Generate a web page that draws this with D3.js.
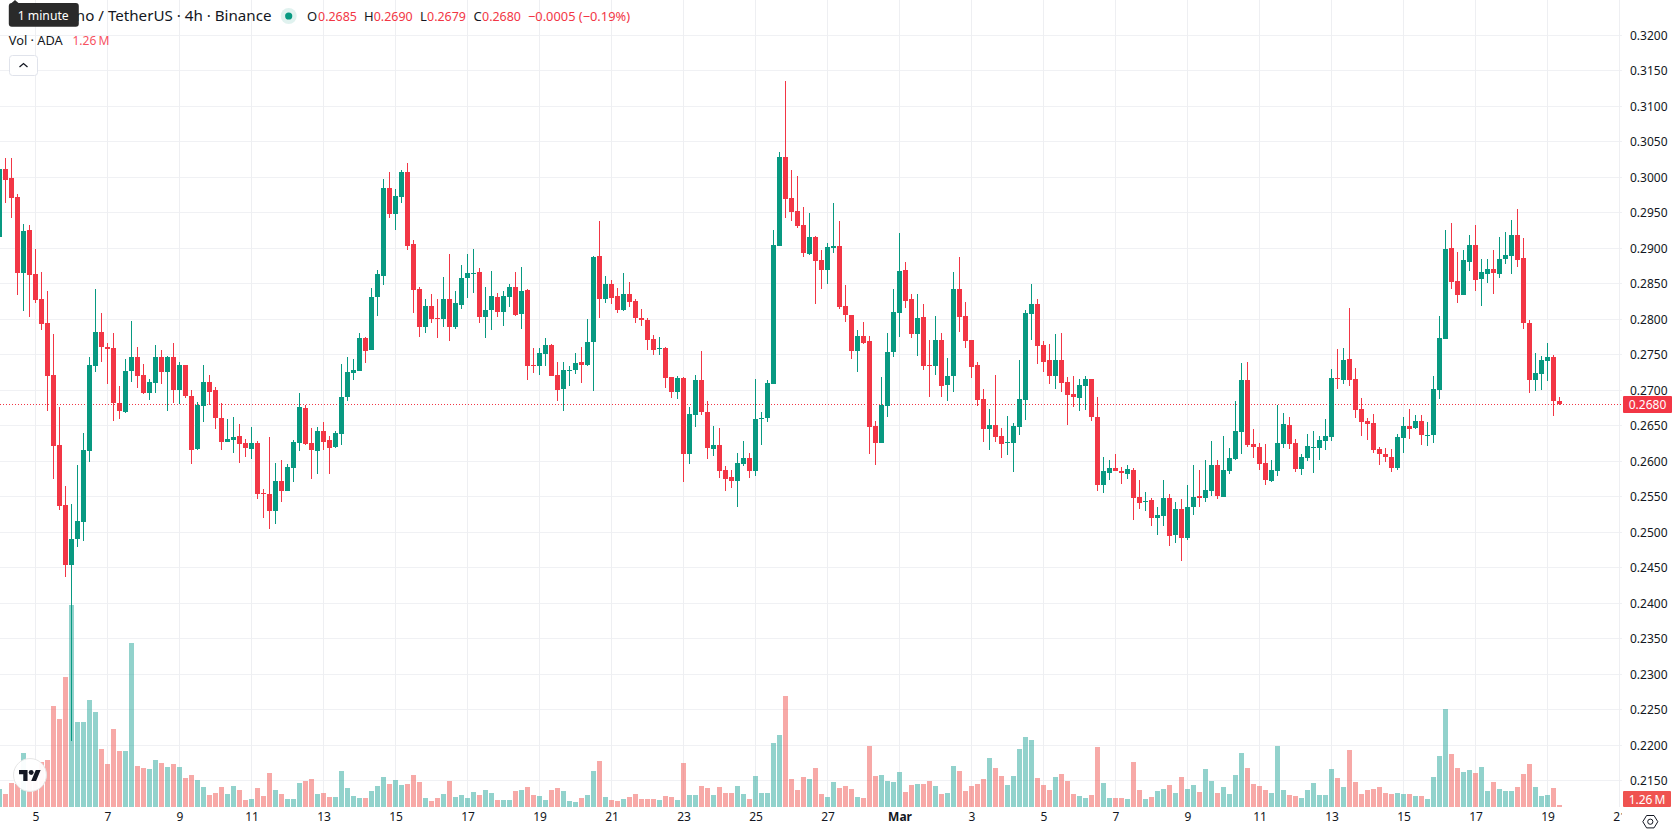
<!DOCTYPE html>
<html>
<head>
<meta charset="utf-8">
<title>ADA / USDT 4h</title>
<script src="https://cdn.jsdelivr.net/npm/d3@7"></script>
<style>
  html, body { margin: 0; padding: 0; background: #fff; }
  svg { display: block; }
  text { font-family: "Noto Sans", sans-serif; fill: #131722; }
</style>
</head>
<body>
<div id="chart"></div>
<script>
// 4h candles, oldest first; one row per ten candles
const opens = [
0.2916,0.3012,0.2999,0.2972,0.2865,0.2926,0.2864,0.2828,0.2795,0.2721,
0.2623,0.2538,0.2454,0.2490,0.2514,0.2614,0.2734,0.2782,0.2761,0.2759,
0.2682,0.2669,0.2727,0.2747,0.2721,0.2696,0.2710,0.2747,0.2726,0.2747,
0.2700,0.2735,0.2692,0.2617,0.2678,0.2712,0.2700,0.2661,0.2627,0.2630,
0.2635,0.2626,0.2617,0.2626,0.2555,0.2554,0.2530,0.2572,0.2558,0.2590,
0.2626,0.2675,0.2626,0.2614,0.2642,0.2630,0.2620,0.2638,0.2690,0.2724,
0.2727,0.2773,0.2757,0.2831,0.2861,0.2985,0.2948,0.2972,0.3007,0.2906,
0.2843,0.2789,0.2819,0.2802,0.2800,0.2828,0.2789,0.2820,0.2858,0.2864,
0.2866,0.2803,0.2813,0.2831,0.2810,0.2831,0.2845,0.2807,0.2841,0.2735,
0.2734,0.2751,0.2764,0.2721,0.2702,0.2727,0.2728,0.2740,0.2735,0.2768,
0.2889,0.2828,0.2850,0.2833,0.2813,0.2835,0.2826,0.2802,0.2799,0.2772,
0.2758,0.2759,0.2719,0.2697,0.2717,0.2610,0.2665,0.2714,0.2669,0.2617,
0.2623,0.2588,0.2578,0.2572,0.2596,0.2604,0.2586,0.2659,0.2661,0.2709,
0.2903,0.3028,0.2971,0.2952,0.2933,0.2892,0.2916,0.2883,0.2869,0.2900,
0.2903,0.2819,0.2806,0.2755,0.2776,0.2769,0.2650,0.2626,0.2678,0.2754,
0.2809,0.2869,0.2828,0.2779,0.2803,0.2735,0.2734,0.2771,0.2707,0.2720,
0.2842,0.2804,0.2771,0.2735,0.2688,0.2645,0.2651,0.2635,0.2626,0.2626,
0.2648,0.2686,0.2807,0.2821,0.2764,0.2742,0.2720,0.2742,0.2712,0.2695,
0.2689,0.2706,0.2716,0.2662,0.2566,0.2583,0.2590,0.2586,0.2582,0.2588,
0.2549,0.2542,0.2545,0.2520,0.2523,0.2548,0.2496,0.2533,0.2492,0.2535,
0.2551,0.2548,0.2558,0.2595,0.2550,0.2586,0.2603,0.2641,0.2714,0.2624,
0.2620,0.2597,0.2572,0.2586,0.2624,0.2651,0.2626,0.2589,0.2605,0.2619,
0.2619,0.2628,0.2634,0.2717,0.2714,0.2744,0.2716,0.2674,0.2657,0.2654,
0.2617,0.2610,0.2606,0.2590,0.2633,0.2650,0.2647,0.2657,0.2635,0.2637,
0.2700,0.2772,0.2900,0.2854,0.2834,0.2881,0.2905,0.2857,0.2864,0.2871,
0.2864,0.2885,0.2889,0.2919,0.2886,0.2795,0.2714,0.2723,0.2741,0.2747,
0.2685];

const highs = [
0.3015,0.3027,0.3027,0.2976,0.2934,0.2933,0.2899,0.2866,0.2840,0.2779,
0.2676,0.2565,0.2540,0.2595,0.2640,0.2747,0.2843,0.2809,0.2766,0.2781,
0.2706,0.2744,0.2797,0.2761,0.2737,0.2716,0.2764,0.2757,0.2748,0.2766,
0.2740,0.2736,0.2700,0.2683,0.2735,0.2721,0.2704,0.2682,0.2659,0.2662,
0.2652,0.2631,0.2648,0.2628,0.2561,0.2634,0.2597,0.2602,0.2596,0.2630,
0.2696,0.2679,0.2647,0.2648,0.2655,0.2635,0.2642,0.2737,0.2747,0.2744,
0.2781,0.2775,0.2844,0.2869,0.2997,0.3007,0.2983,0.3010,0.3020,0.2912,
0.2845,0.2828,0.2835,0.2828,0.2859,0.2892,0.2840,0.2876,0.2892,0.2899,
0.2872,0.2845,0.2868,0.2837,0.2840,0.2850,0.2866,0.2874,0.2842,0.2759,
0.2759,0.2773,0.2765,0.2740,0.2740,0.2734,0.2752,0.2761,0.2800,0.2889,
0.2938,0.2861,0.2855,0.2844,0.2865,0.2852,0.2828,0.2814,0.2802,0.2778,
0.2775,0.2761,0.2719,0.2720,0.2719,0.2676,0.2721,0.2755,0.2685,0.2650,
0.2647,0.2593,0.2588,0.2612,0.2628,0.2612,0.2716,0.2669,0.2714,0.2926,
0.3036,0.3136,0.3010,0.3002,0.2958,0.2950,0.2917,0.2897,0.2907,0.2964,
0.2938,0.2848,0.2806,0.2785,0.2796,0.2776,0.2657,0.2719,0.2781,0.2842,
0.2921,0.2881,0.2835,0.2835,0.2821,0.2771,0.2804,0.2781,0.2745,0.2866,
0.2888,0.2824,0.2771,0.2740,0.2702,0.2673,0.2721,0.2647,0.2664,0.2654,
0.2742,0.2813,0.2850,0.2828,0.2769,0.2765,0.2779,0.2781,0.2719,0.2720,
0.2716,0.2720,0.2716,0.2690,0.2606,0.2602,0.2610,0.2592,0.2595,0.2590,
0.2573,0.2556,0.2548,0.2535,0.2573,0.2554,0.2543,0.2547,0.2566,0.2595,
0.2588,0.2602,0.2628,0.2602,0.2635,0.2619,0.2685,0.2738,0.2740,0.2645,
0.2626,0.2624,0.2602,0.2679,0.2668,0.2662,0.2631,0.2610,0.2638,0.2643,
0.2635,0.2659,0.2730,0.2758,0.2759,0.2816,0.2731,0.2689,0.2661,0.2666,
0.2620,0.2619,0.2617,0.2638,0.2662,0.2674,0.2665,0.2665,0.2655,0.2720,
0.2805,0.2926,0.2936,0.2895,0.2897,0.2919,0.2933,0.2885,0.2885,0.2897,
0.2916,0.2923,0.2940,0.2955,0.2914,0.2799,0.2752,0.2748,0.2766,0.2750,
0.2690];

const lows = [
0.2912,0.2964,0.2943,0.2834,0.2812,0.2803,0.2823,0.2785,0.2671,0.2575,
0.2531,0.2437,0.2206,0.2479,0.2488,0.2599,0.2726,0.2740,0.2709,0.2657,
0.2659,0.2668,0.2712,0.2703,0.2695,0.2686,0.2696,0.2709,0.2671,0.2682,
0.2681,0.2689,0.2596,0.2616,0.2655,0.2679,0.2645,0.2616,0.2627,0.2612,
0.2597,0.2606,0.2603,0.2547,0.2520,0.2504,0.2512,0.2543,0.2558,0.2571,
0.2614,0.2623,0.2575,0.2582,0.2616,0.2582,0.2619,0.2623,0.2685,0.2714,
0.2727,0.2738,0.2757,0.2804,0.2848,0.2943,0.2926,0.2964,0.2897,0.2809,
0.2775,0.2781,0.2795,0.2773,0.2789,0.2769,0.2786,0.2814,0.2830,0.2837,
0.2795,0.2773,0.2785,0.2803,0.2790,0.2817,0.2804,0.2786,0.2714,0.2724,
0.2721,0.2734,0.2720,0.2685,0.2671,0.2706,0.2723,0.2710,0.2734,0.2699,
0.2802,0.2823,0.2821,0.2809,0.2812,0.2817,0.2795,0.2790,0.2757,0.2750,
0.2750,0.2703,0.2689,0.2688,0.2571,0.2596,0.2648,0.2665,0.2603,0.2607,
0.2576,0.2558,0.2562,0.2535,0.2593,0.2576,0.2579,0.2623,0.2655,0.2709,
0.2903,0.2942,0.2938,0.2928,0.2888,0.2890,0.2821,0.2842,0.2850,0.2893,
0.2814,0.2796,0.2744,0.2726,0.2765,0.2610,0.2595,0.2626,0.2662,0.2747,
0.2775,0.2816,0.2773,0.2748,0.2728,0.2690,0.2721,0.2690,0.2685,0.2697,
0.2782,0.2759,0.2717,0.2678,0.2627,0.2616,0.2627,0.2604,0.2609,0.2585,
0.2637,0.2658,0.2771,0.2737,0.2726,0.2709,0.2702,0.2697,0.2651,0.2676,
0.2671,0.2672,0.2657,0.2558,0.2555,0.2573,0.2586,0.2568,0.2575,0.2517,
0.2533,0.2530,0.2509,0.2496,0.2509,0.2481,0.2485,0.2459,0.2489,0.2524,
0.2535,0.2543,0.2551,0.2547,0.2550,0.2582,0.2602,0.2610,0.2620,0.2605,
0.2588,0.2566,0.2571,0.2579,0.2619,0.2617,0.2585,0.2581,0.2600,0.2583,
0.2602,0.2616,0.2628,0.2702,0.2709,0.2706,0.2661,0.2635,0.2630,0.2612,
0.2595,0.2599,0.2585,0.2588,0.2612,0.2631,0.2645,0.2623,0.2621,0.2626,
0.2688,0.2772,0.2843,0.2823,0.2834,0.2868,0.2840,0.2819,0.2851,0.2836,
0.2858,0.2878,0.2864,0.2874,0.2786,0.2696,0.2699,0.2700,0.2713,0.2664,
0.2679];

const closes = [
0.3012,0.2996,0.2971,0.2865,0.2924,0.2862,0.2827,0.2793,0.2720,0.2621,
0.2537,0.2454,0.2490,0.2516,0.2616,0.2735,0.2782,0.2761,0.2758,0.2682,
0.2671,0.2727,0.2747,0.2720,0.2696,0.2712,0.2747,0.2726,0.2747,0.2700,
0.2735,0.2692,0.2616,0.2679,0.2712,0.2698,0.2661,0.2627,0.2631,0.2634,
0.2624,0.2619,0.2626,0.2554,0.2554,0.2530,0.2572,0.2558,0.2592,0.2627,
0.2676,0.2624,0.2616,0.2642,0.2627,0.2619,0.2640,0.2690,0.2726,0.2728,
0.2773,0.2755,0.2831,0.2864,0.2985,0.2948,0.2974,0.3007,0.2903,0.2841,
0.2789,0.2819,0.2800,0.2800,0.2828,0.2789,0.2823,0.2858,0.2865,0.2865,
0.2803,0.2813,0.2833,0.2810,0.2833,0.2845,0.2806,0.2840,0.2734,0.2734,
0.2752,0.2764,0.2720,0.2700,0.2728,0.2728,0.2738,0.2735,0.2768,0.2888,
0.2828,0.2850,0.2830,0.2813,0.2835,0.2824,0.2802,0.2799,0.2771,0.2757,
0.2759,0.2717,0.2697,0.2717,0.2610,0.2666,0.2714,0.2669,0.2619,0.2623,
0.2586,0.2575,0.2572,0.2597,0.2604,0.2586,0.2659,0.2661,0.2710,0.2904,
0.3028,0.2969,0.2951,0.2931,0.2893,0.2916,0.2882,0.2869,0.2902,0.2903,
0.2817,0.2806,0.2755,0.2776,0.2766,0.2648,0.2626,0.2679,0.2754,0.2810,
0.2868,0.2826,0.2779,0.2802,0.2734,0.2734,0.2771,0.2706,0.2720,0.2842,
0.2803,0.2769,0.2733,0.2686,0.2645,0.2651,0.2634,0.2624,0.2627,0.2650,
0.2688,0.2809,0.2821,0.2762,0.2740,0.2720,0.2742,0.2710,0.2693,0.2690,
0.2707,0.2716,0.2662,0.2566,0.2586,0.2590,0.2586,0.2583,0.2589,0.2548,
0.2541,0.2544,0.2520,0.2524,0.2548,0.2495,0.2533,0.2492,0.2535,0.2550,
0.2548,0.2559,0.2595,0.2551,0.2588,0.2604,0.2643,0.2714,0.2623,0.2620,
0.2596,0.2573,0.2588,0.2626,0.2652,0.2624,0.2589,0.2606,0.2621,0.2620,
0.2630,0.2635,0.2717,0.2716,0.2743,0.2714,0.2672,0.2655,0.2652,0.2616,
0.2610,0.2606,0.2590,0.2634,0.2650,0.2645,0.2657,0.2637,0.2637,0.2702,
0.2774,0.2899,0.2852,0.2834,0.2883,0.2905,0.2855,0.2866,0.2871,0.2865,
0.2885,0.2890,0.2919,0.2883,0.2795,0.2714,0.2724,0.2743,0.2747,0.2685,
0.2680];

// Traded volume per candle, in millions of ADA
const volumes = [
11.1,8.0,14.9,14.7,33.8,17.9,22.1,28.1,29.4,63.4,
55.2,81.7,127.1,53.3,53.3,67.2,59.6,36.3,26.9,48.9,
35.1,35.1,103.1,25.6,24.4,23.7,29.4,27.5,25.0,26.9,
25.0,18.1,20.0,16.8,12.4,7.4,8.6,12.4,8.0,13.0,
10.5,4.2,4.8,11.8,6.7,21.2,10.5,8.0,4.8,4.8,
14.9,16.2,17.4,8.0,8.6,6.1,6.1,22.5,11.8,6.7,
5.5,5.5,9.9,13.0,18.7,14.3,16.8,13.7,14.3,20.0,
15.8,5.7,3.8,5.7,8.2,16.4,6.3,7.6,5.7,9.5,
7.6,10.7,8.8,4.4,4.4,4.4,10.1,10.7,12.6,7.6,
6.9,4.4,10.7,12.0,10.1,3.8,3.2,5.7,7.6,22.7,
29.0,6.3,4.4,3.8,5.0,6.3,8.2,5.0,5.0,5.0,
4.4,6.9,6.3,4.4,27.7,7.6,7.6,13.2,12.0,7.6,
12.6,8.8,8.8,13.2,8.2,5.0,19.5,8.8,8.8,40.3,
45.4,69.9,17.6,10.7,18.9,17.6,24.6,8.2,6.3,15.8,
12.0,13.2,11.3,6.3,5.7,38.4,19.5,20.2,16.4,15.8,
22.1,9.5,13.9,14.5,14.5,16.4,13.2,8.2,8.8,25.8,
22.7,10.1,13.2,14.5,17.6,30.9,24.6,19.5,13.9,19.5,
36.5,44.1,42.2,18.3,13.9,10.7,18.9,20.8,16.4,8.2,
6.9,5.7,7.6,37.8,15.1,5.7,5.7,5.7,5.0,28.4,
10.7,5.0,6.3,10.1,11.3,13.9,8.8,18.9,11.3,13.9,
9.5,23.9,16.4,8.8,12.6,8.2,20.2,34.0,24.6,14.5,
13.2,10.7,8.8,38.4,10.7,7.6,6.9,5.7,10.7,15.1,
7.6,7.6,23.9,18.3,12.6,35.9,15.8,8.2,10.7,11.3,
12.6,8.8,8.2,8.8,8.2,8.2,6.9,6.9,5.0,18.9,
32.1,61.7,33.4,24.6,22.1,23.3,21.4,25.2,10.1,15.8,
11.3,10.1,10.1,12.6,20.8,27.1,12.6,6.9,7.6,12.0,
1.26];

const priceTicks = [0.32,0.315,0.31,0.305,0.30,0.295,0.29,0.285,0.28,0.275,0.27,0.265,
  0.26,0.255,0.25,0.245,0.24,0.235,0.23,0.225,0.22,0.215];

// Every second day falls on a candle: candle index -> day label
const dayTickIndex = [6,18,30,42,54,66,78,90,102,114,126,138,150,162,174,186,198,210,222,234,246,258,270];
const dayTickLabels = ["5","7","9","11","13","15","17","19","21","23","25","27","Mar","3","5","7","9","11","13","15","17","19","21"];

const lastPrice = 0.2680;
const legendOHLC = [["O","0.2685"],["H","0.2690"],["L","0.2679"],["C","0.2680"]];
const legendChange = "\u22120.0005 (\u22120.19%)";
const legendVolume = "1.26\u2009M";

const width = 1678, height = 835;
const paneRight = 1622, paneBottom = 807;
const up = "#089981", down = "#f23645";
const upVol = "#26a69a", downVol = "#ef5350";

const svg = d3.select("#chart").append("svg").attr("width", width).attr("height", height);

const x = d3.scaleLinear().domain([0, 260]).range([-0.5, 1559.5]);
const y = d3.scaleLinear().domain([0.215, 0.32]).range([780.7, 35.2]);
const v = d3.scaleLinear().domain([0, 127.1]).range([paneBottom, 605]);

const candles = opens.map((o, i) => ({
  i, o, h: highs[i], l: lows[i], c: closes[i], vol: volumes[i], rising: closes[i] >= o
}));

const pixel = p => Math.round(y(p));

// Grid
const grid = svg.append("g").attr("shape-rendering", "crispEdges");
grid.selectAll(".hl").data(priceTicks).join("line").attr("class", "hl")
  .attr("x1", 0).attr("x2", paneRight)
  .attr("y1", d => Math.floor(y(d)) + 0.5).attr("y2", d => Math.floor(y(d)) + 0.5)
  .attr("stroke", "#f0f1f4");
grid.selectAll(".vl").data(dayTickIndex).join("line").attr("class", "vl")
  .attr("x1", d => x(d)).attr("x2", d => x(d))
  .attr("y1", 0).attr("y2", paneBottom)
  .attr("stroke", "#eeeff2");

// Volume bars sit under the candles
svg.append("g").attr("shape-rendering", "crispEdges")
  .selectAll("rect").data(candles).join("rect")
  .attr("x", d => x(d.i) - 2.5).attr("width", 5)
  .attr("y", d => Math.round(v(d.vol)))
  .attr("height", d => paneBottom - Math.round(v(d.vol)))
  .attr("fill", d => d.rising ? upVol : downVol)
  .attr("fill-opacity", 0.5);

// Last-price line
svg.append("line")
  .attr("x1", 0).attr("x2", paneRight)
  .attr("y1", Math.floor(y(lastPrice)) + 0.5).attr("y2", Math.floor(y(lastPrice)) + 0.5)
  .attr("stroke", down).attr("stroke-dasharray", "1 2").attr("shape-rendering", "crispEdges");

// Candles
const candleG = svg.append("g").attr("shape-rendering", "crispEdges")
  .selectAll("g").data(candles).join("g")
  .attr("fill", d => d.rising ? up : down);
candleG.append("rect")
  .attr("x", d => x(d.i) - 0.5).attr("width", 1)
  .attr("y", d => pixel(d.h))
  .attr("height", d => Math.max(1, pixel(d.l) - pixel(d.h)));
candleG.append("rect")
  .attr("x", d => x(d.i) - 2.5).attr("width", 5)
  .attr("y", d => pixel(Math.max(d.o, d.c)))
  .attr("height", d => Math.max(1, pixel(Math.min(d.o, d.c)) - pixel(Math.max(d.o, d.c))));

// Price axis
const priceAxis = svg.append("g").attr("transform", `translate(${paneRight},0)`)
  .call(d3.axisRight(y).tickValues(priceTicks).tickFormat(d3.format(".4f")).tickSize(0).tickPadding(8));
priceAxis.select(".domain").remove();
priceAxis.selectAll("text").style("font-family", '"Noto Sans", sans-serif').style("font-size", "12px").attr("fill", "#131722");

// Time axis, clipped where the last label runs into the price scale
svg.append("clipPath").attr("id", "time-clip").append("rect")
  .attr("x", 0).attr("y", paneBottom).attr("width", paneRight).attr("height", height - paneBottom);
const timeAxis = svg.append("g").attr("clip-path", "url(#time-clip)").append("g")
  .attr("transform", `translate(0,${paneBottom})`)
  .call(d3.axisBottom(x).tickValues(dayTickIndex)
    .tickFormat((d, i) => dayTickLabels[i]).tickSize(0).tickPadding(5));
timeAxis.select(".domain").remove();
timeAxis.selectAll("text").style("font-family", '"Noto Sans", sans-serif').style("font-size", "12px").attr("fill", "#131722")
  .style("font-weight", (d, i) => dayTickLabels[i] === "Mar" ? 700 : 400);

// Price and volume tags on the scale
svg.append("rect").attr("x", 1623).attr("y", 396).attr("width", 49).attr("height", 17)
  .attr("fill", down).attr("rx", 1);
svg.append("text").attr("x", 1647.5).attr("y", 409).attr("text-anchor", "middle")
  .style("font-size", "12px").style("fill", "#fff").text(d3.format(".4f")(lastPrice));
svg.append("rect").attr("x", 1623).attr("y", 791).attr("width", 48).attr("height", 16)
  .attr("fill", "#ef5350").attr("rx", 1);
svg.append("text").attr("x", 1647).attr("y", 803.5).attr("text-anchor", "middle")
  .style("font-size", "12px").style("fill", "#fff").text(legendVolume);

// Settings glyph in the scale corner
const gear = svg.append("g").attr("transform", "translate(1650.3,821.7)")
  .attr("fill", "none").attr("stroke", "#131722");
gear.append("path").attr("d", "M-7.5 0 L-3.7 -6.2 L3.7 -6.2 L7.5 0 L3.7 6.2 L-3.7 6.2 Z");
gear.append("circle").attr("r", 2.6);

// Brand badge
svg.append("circle").attr("cx", 30).attr("cy", 775).attr("r", 16.5)
  .attr("fill", "#fff").attr("fill-opacity", 0.95).attr("stroke", "#e6e6e6");
const logo = svg.append("g").attr("transform", "translate(19,767.6) scale(0.61)").attr("fill", "#131722");
logo.append("path").attr("d", "M14 22H7V11H0V4h14v18zM28 22h-8l7.5-18h8L28 22z");
logo.append("circle").attr("cx", 20).attr("cy", 8).attr("r", 4);

// Legend text, held to a set width where one is given
function label(parent, str, xPos, yPos, len, size, color) {
  const t = parent.append("text").attr("x", xPos).attr("y", yPos)
    .style("font-size", size + "px").style("fill", color).text(str);
  if (len) t.attr("textLength", len).attr("lengthAdjust", "spacingAndGlyphs");
  return t;
}

// Legend
const legend = svg.append("g");
label(legend, "Cardano / TetherUS \u00b7 4h \u00b7 Binance", 34, 21, 237.5, 14.5, "#131722");
legend.append("circle").attr("cx", 288.7).attr("cy", 16).attr("r", 8).attr("fill", "#e0f2ef");
legend.append("circle").attr("cx", 288.7).attr("cy", 16).attr("r", 3.6).attr("fill", up);
const ohlcX = [[307, 318], [364, 373.7], [420, 427], [473.5, 482]];
legendOHLC.forEach(([k, val], i) => {
  label(legend, k, ohlcX[i][0], 20.5, null, 13, "#131722");
  label(legend, val, ohlcX[i][1], 20.5, 39, 13, down);
});
label(legend, legendChange, 528, 20.5, 102, 13, down);
label(legend, "Vol \u00b7 ADA", 8.8, 45, 54, 13, "#131722");
label(legend, legendVolume, 72.4, 45, 37, 13, "#f7525f");

// Collapse button
svg.append("rect").attr("x", 9.5).attr("y", 55.5).attr("width", 28).attr("height", 20)
  .attr("rx", 3).attr("fill", "#fff").attr("stroke", "#e0e3eb");
svg.append("path").attr("d", "M19.5 67 L23.5 63.5 L27.5 67").attr("fill", "none")
  .attr("stroke", "#131722").attr("stroke-width", 1.3);

// Hover hint over the legend
svg.append("path").attr("d", "M11 3.5 L15 0 L19 3.5 Z").attr("fill", "#2a2a2a");
svg.append("rect").attr("x", 8.8).attr("y", 3).attr("width", 70).attr("height", 23.7)
  .attr("rx", 3).attr("fill", "#2a2a2a");
label(svg, "1 minute", 17.7, 19.5, 51, 12, "#fff");
</script>
</body>
</html>
